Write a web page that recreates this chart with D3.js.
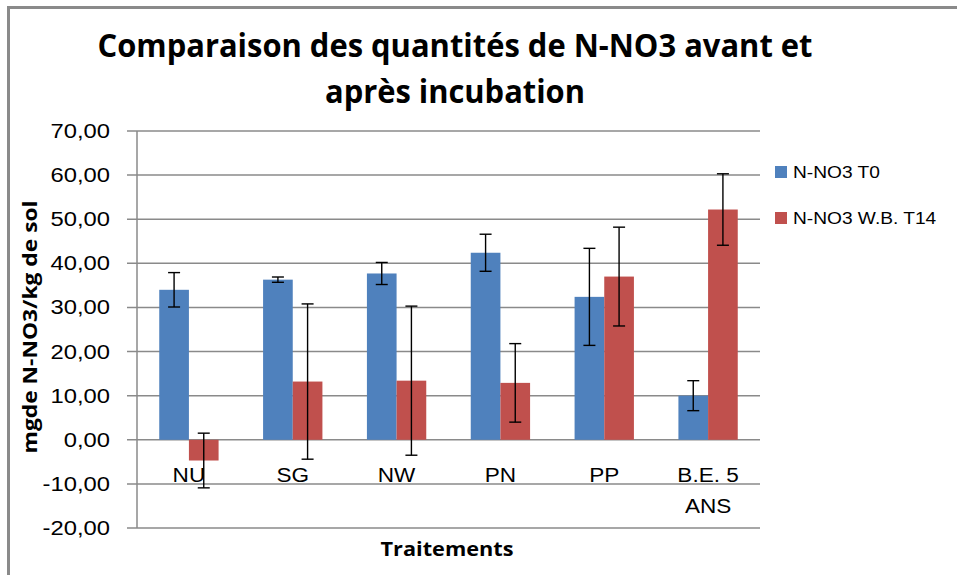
<!DOCTYPE html>
<html lang="fr">
<head>
    <meta charset="UTF-8">
    <title>Comparaison N-NO3</title>
    <script src="https://d3js.org/d3.v7.min.js"></script>
    <style>
        body { margin: 0; background: #fff; }
        svg { display: block; }
        text { font-family: "Liberation Sans", Arial, sans-serif; fill: #000; }
        .title, .axis-title { font-family: "Liberation Sans Narrow", "Open Sans", sans-serif; font-weight: bold; }
    </style>
</head>
<body>
<div id="chart"></div>
<script>
    // Data
    const categories = ['NU', 'SG', 'NW', 'PN', 'PP', 'B.E. 5 ANS'];
    const seriesNames = ['N-NO3 T0', 'N-NO3 W.B. T14'];
    const t0Values = [34.0, 36.3, 37.7, 42.4, 32.4, 10.0];
    const t0Errors = [3.9, 0.6, 2.5, 4.2, 11.0, 3.4];
    const t14Values = [-4.7, 13.2, 13.4, 12.9, 37.0, 52.2];
    const t14Errors = [6.2, 17.6, 16.9, 8.9, 11.2, 8.1];
    const yTicks = [-20, -10, 0, 10, 20, 30, 40, 50, 60, 70];
    const colors = ['#4F81BD', '#C0504D'];

    const width = 957, height = 575;
    const plot = { left: 137, right: 760, top: 131, bottom: 528 };

    // the original text is rendered a bit wider than Arial
    function widen(sel, factor) {
        sel.each(function () {
            const w = this.getComputedTextLength();
            d3.select(this).attr('textLength', w * factor).attr('lengthAdjust', 'spacingAndGlyphs');
        });
    }

    const svg = d3.select('#chart').append('svg')
        .attr('width', width)
        .attr('height', height);

    // chart frame (only left and top edges are in the picture)
    svg.append('path')
        .attr('d', `M8.5,${height} V7.5 H${width}`)
        .attr('fill', 'none')
        .attr('stroke', '#8a8a8a')
        .attr('stroke-width', 3);

    const y = d3.scaleLinear().domain([-20, 70]).range([plot.bottom, plot.top]);
    const x0 = d3.scaleBand().domain(categories).range([plot.left, plot.right]).padding(0);
    const gap = x0.bandwidth() * 1.5 / 3.5 / 2;
    const x1 = d3.scaleBand().domain(seriesNames).range([gap, x0.bandwidth() - gap]).padding(0);

    // gridlines
    svg.append('g')
        .selectAll('line')
        .data(yTicks)
        .enter().append('line')
        .attr('x1', plot.left - 10)
        .attr('x2', plot.right)
        .attr('y1', d => y(d))
        .attr('y2', d => y(d))
        .attr('stroke', '#8a8a8a')
        .attr('stroke-width', 1.5);

    // y axis line
    svg.append('line')
        .attr('x1', plot.left).attr('x2', plot.left)
        .attr('y1', y(70)).attr('y2', y(-20))
        .attr('stroke', '#8a8a8a')
        .attr('stroke-width', 1.5);

    // y tick labels
    svg.append('g')
        .selectAll('text')
        .data(yTicks)
        .enter().append('text')
        .attr('x', 110)
        .attr('y', d => y(d) + 7)
        .attr('text-anchor', 'end')
        .attr('font-size', '19.5px')
        .text(d => d3.format('.2f')(d).replace('.', ',').replace('−', '-'))
        .call(widen, 1.22);

    // bars
    const rows = categories.map((c, i) => ({
        cat: c,
        vals: [
            { s: seriesNames[0], v: t0Values[i], e: t0Errors[i], color: colors[0] },
            { s: seriesNames[1], v: t14Values[i], e: t14Errors[i], color: colors[1] }
        ]
    }));

    const groups = svg.append('g')
        .selectAll('g')
        .data(rows)
        .enter().append('g')
        .attr('transform', d => `translate(${x0(d.cat)},0)`);

    groups.selectAll('rect')
        .data(d => d.vals)
        .enter().append('rect')
        .attr('x', d => x1(d.s))
        .attr('width', x1.bandwidth())
        .attr('y', d => y(Math.max(0, d.v)))
        .attr('height', d => Math.abs(y(d.v) - y(0)))
        .attr('fill', d => d.color);

    // error bars
    const capW = 6;
    const err = groups.selectAll('g.err')
        .data(d => d.vals)
        .enter().append('g')
        .attr('class', 'err')
        .attr('stroke', '#000')
        .attr('stroke-width', 1.4);
    err.append('line')
        .attr('x1', d => x1(d.s) + x1.bandwidth() / 2)
        .attr('x2', d => x1(d.s) + x1.bandwidth() / 2)
        .attr('y1', d => y(d.v + d.e))
        .attr('y2', d => y(d.v - d.e));
    err.append('line')
        .attr('x1', d => x1(d.s) + x1.bandwidth() / 2 - capW)
        .attr('x2', d => x1(d.s) + x1.bandwidth() / 2 + capW)
        .attr('y1', d => y(d.v + d.e))
        .attr('y2', d => y(d.v + d.e));
    err.append('line')
        .attr('x1', d => x1(d.s) + x1.bandwidth() / 2 - capW)
        .attr('x2', d => x1(d.s) + x1.bandwidth() / 2 + capW)
        .attr('y1', d => y(d.v - d.e))
        .attr('y2', d => y(d.v - d.e));

    // category labels (wrapped when too wide)
    const catLines = [];
    categories.forEach(c => {
        const words = c.split(' ');
        const lines = [];
        let line = '';
        words.forEach(w => {
            const test = line ? line + ' ' + w : w;
            if (test.length > 6 && line) { lines.push(line); line = w; }
            else line = test;
        });
        lines.push(line);
        lines.forEach((l, k) => catLines.push({ cat: c, text: l, k: k }));
    });
    svg.append('g')
        .selectAll('text')
        .data(catLines)
        .enter().append('text')
        .attr('text-anchor', 'middle')
        .attr('font-size', '20.5px')
        .attr('x', d => x0(d.cat) + x0.bandwidth() / 2)
        .attr('y', d => 482 + d.k * 31)
        .text(d => d.text)
        .call(widen, 1.1);

    // axis titles
    svg.append('text')
        .attr('class', 'axis-title')
        .attr('x', 447)
        .attr('y', 556)
        .attr('text-anchor', 'middle')
        .attr('font-size', '19px')
        .attr('textLength', 133)
        .attr('lengthAdjust', 'spacingAndGlyphs')
        .text('Traitements');

    svg.append('text')
        .attr('class', 'axis-title')
        .attr('transform', 'translate(37,327) rotate(-90)')
        .attr('text-anchor', 'middle')
        .attr('font-size', '20px')
        .attr('textLength', 253)
        .attr('lengthAdjust', 'spacingAndGlyphs')
        .text('mgde N-NO3/kg de sol');

    // title
    const titleLines = ['Comparaison des quantités de N-NO3 avant et', 'après incubation'];
    const titleWidths = [715, 260];
    svg.append('g')
        .selectAll('text')
        .data(titleLines)
        .enter().append('text')
        .attr('class', 'title')
        .attr('x', 455)
        .attr('y', (d, i) => 57 + i * 46)
        .attr('text-anchor', 'middle')
        .attr('font-size', '33px')
        .attr('textLength', (d, i) => titleWidths[i])
        .attr('lengthAdjust', 'spacingAndGlyphs')
        .text(d => d);

    // legend
    const legend = svg.append('g')
        .selectAll('g')
        .data(seriesNames)
        .enter().append('g')
        .attr('transform', (d, i) => `translate(775,${166 + i * 46})`);
    legend.append('rect')
        .attr('width', 12)
        .attr('height', 12)
        .attr('fill', (d, i) => colors[i]);
    legend.append('text')
        .attr('x', 18)
        .attr('y', 12)
        .attr('font-size', '16.5px')
        .text(d => d)
        .call(widen, 1.16);
</script>
</body>
</html>
